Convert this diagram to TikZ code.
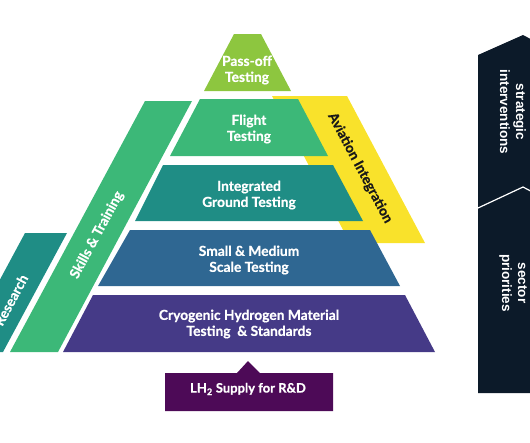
\documentclass[tikz,border=0pt]{standalone}
\usepackage{fontspec}
\setmainfont{Lato}[BoldFeatures={FakeBold=0.6}]
\newfontfamily\arialfont{Liberation Sans}
\definecolor{cPass}{HTML}{8DC63F}
\definecolor{cFlight}{HTML}{3CB878}
\definecolor{cInteg}{HTML}{1F8D85}
\definecolor{cSmall}{HTML}{2F6792}
\definecolor{cCryo}{HTML}{453A87}
\definecolor{cYellow}{HTML}{F9E22B}
\definecolor{cLH}{HTML}{4D0A57}
\definecolor{cDark}{HTML}{0C1A29}
\begin{document}
\begin{tikzpicture}[x=1pt,y=-1pt,
  lbl/.style={text=white, font=\bfseries\fontsize{13.8}{16}\selectfont, align=center, inner sep=0pt},
  bandlbl/.style={font=\bfseries\fontsize{13.8}{14}\selectfont, inner sep=0pt},
  sidelbl/.style={text=white, font=\arialfont\bfseries\fontsize{13.5}{16}\selectfont, align=center, inner sep=0pt, rotate=-90}]
\useasboundingbox (0,0) rectangle (530,442);
\clip (0,0) rectangle (530,442);
% bands behind
\fill[cYellow] (272,96) -- (347,96) -- (425,243) -- (350,243) -- cycle;
\fill[cFlight] (145,101) -- (192,101) -- (58,352) -- (10,352) -- cycle;
\fill[cInteg] (25,233) -- (67,233) -- (3,352) -- (-39,352) -- cycle;
% pyramid layers
\fill[cPass] (234,34) -- (261,34) -- (291,91) -- (204,91) -- cycle;
\fill[cFlight] (200,99) -- (298,99) -- (328,156) -- (170,156) -- cycle;
\fill[cInteg] (163,165) -- (333,165) -- (363,221) -- (135,221) -- cycle;
\fill[cSmall] (130,230) -- (370,230) -- (400,286) -- (98,286) -- cycle;
\fill[cCryo] (93,295) -- (405,295) -- (435,352) -- (63,352) -- cycle;
% LH2 box
\fill[cLH] (165,373) -- (237,373) -- (248,361) -- (260,373) -- (333,373) -- (333,411) -- (165,411) -- cycle;
% dark side shape
\fill[cDark] (478,55) -- (523,35) -- (540,44) -- (540,393) -- (478,393) -- cycle;
\coordinate (dA) at (478,208);
\coordinate (dB) at (523,187);
\coordinate (dC) at (540,196);
\draw[white, line width=1.2pt] (dA) -- (dB) -- (dC);
% texts
\node[lbl] (pass) at (247,70) {Pass-off\\Testing};
\node[lbl] (flight) at (249,129) {Flight\\Testing};
\node[lbl] (integ) at (249,195) {Integrated\\Ground Testing};
\node[lbl] (small) at (249,260) {Small \& Medium\\Scale Testing};
\node[lbl] (cryo) at (249,324) {Cryogenic Hydrogen Material\\Testing \ \& Standards};
\node[lbl, font=\bfseries\fontsize{13}{14}\selectfont] (lh) at (248,389) {LH\textsubscript{2} Supply for R\&D};
\node[bandlbl, text=white, rotate=61.7] (skills) at (97,235) {Skills \& Training};
\node[bandlbl, text=white, rotate=61.7] (research) at (11,300) {Research};
\node[bandlbl, text=black!90, rotate=-62] (avi) at (360,168) {Aviation Integration};
\node[sidelbl] (strat) at (513,112) {strategic\\interventions};
\node[sidelbl] (sector) at (513,283) {sector\\priorities};
\end{tikzpicture}
\end{document}
